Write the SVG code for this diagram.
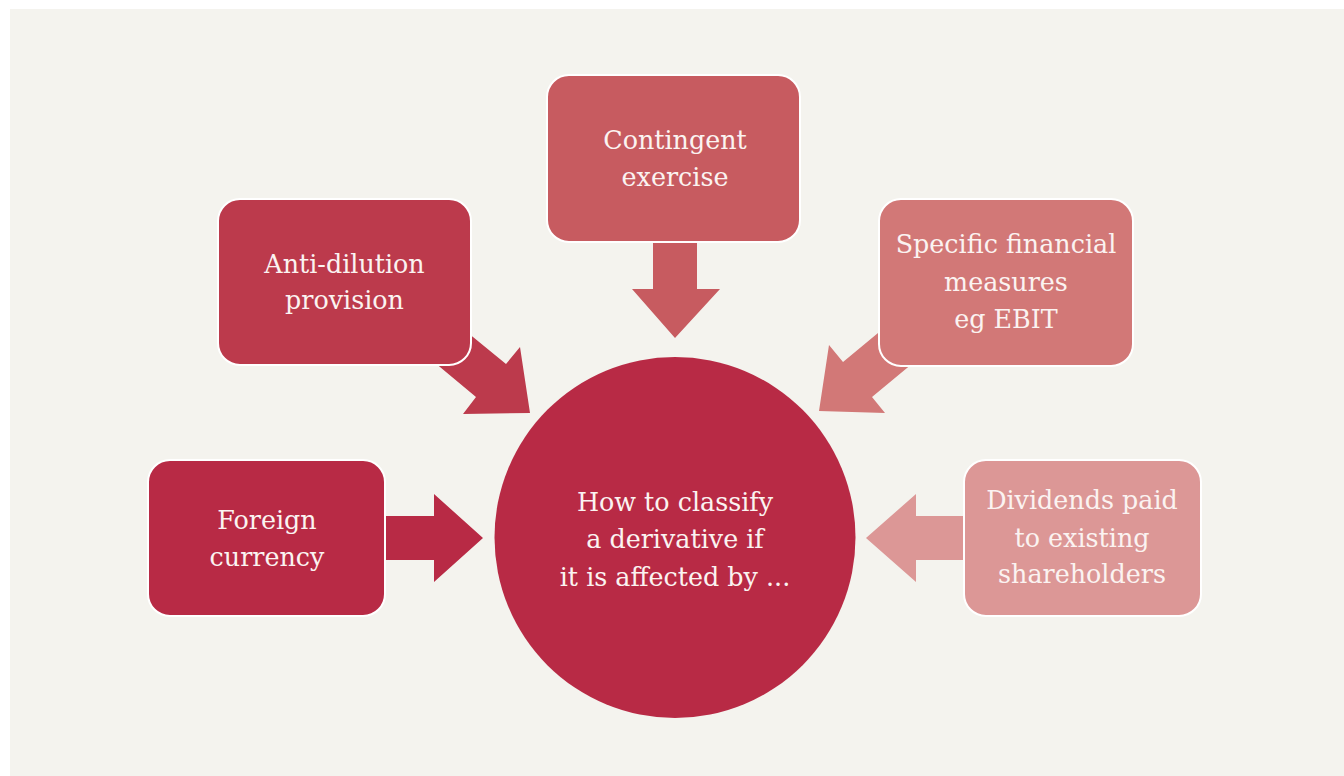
<svg xmlns="http://www.w3.org/2000/svg" width="1344" height="776" viewBox="0 0 1344 776">
<style>
.bg{fill:#F4F3EE}
.box{stroke:#FFFFFF;stroke-width:2}
.t{font-family:"DejaVu Serif","Liberation Serif",serif;font-size:25.4px;fill:#FBF3F1;text-anchor:middle}
.c1{fill:#B82A45}
.c2{fill:#BC3A4C}
.c3{fill:#C75B60}
.c4{fill:#D27877}
.c5{fill:#DC9796}
</style>
<rect x="0" y="0" width="1344" height="776" fill="#FFFFFF"/>
<rect class="bg" x="10" y="9" width="1334" height="767"/>
<g id="connectors">
  <polygon class="c3" points="653,240 697,240 697,289 720,289 675,338 632,289 653,289"/>
  <polygon class="c2" points="440,310 506,364 520,347 530,413 463,414 476,397 410,342"/>
  <polygon class="c4" points="913,304 843,362 829,345 819,411 885,413 872,397 942,339"/>
  <polygon class="c1" points="380,516 434,516 434,494 483,538 434,582 434,560 380,560"/>
  <polygon class="c5" points="970,516 916,516 916,494 866,538 916,582 916,560 970,560"/>
</g>
<g id="center">
  <circle class="c1" cx="675" cy="537.5" r="180.5"/>
  <text class="t" x="675" y="511">How to classify</text>
  <text class="t" x="675" y="548">a derivative if</text>
  <text class="t" x="675" y="586">it is affected by ...</text>
</g>
<g id="contingent">
  <rect class="box c3" x="547" y="75" width="253" height="167" rx="22"/>
  <text class="t" x="675" y="149">Contingent</text>
  <text class="t" x="675" y="186">exercise</text>
</g>
<g id="antidilution">
  <rect class="box c2" x="218" y="199" width="253" height="166" rx="22"/>
  <text class="t" x="344.5" y="273">Anti-dilution</text>
  <text class="t" x="344.5" y="309">provision</text>
</g>
<g id="specific">
  <rect class="box c4" x="879" y="199" width="254" height="167" rx="22"/>
  <text class="t" x="1006" y="253">Specific financial</text>
  <text class="t" x="1006" y="291">measures</text>
  <text class="t" x="1006" y="328">eg EBIT</text>
</g>
<g id="foreign">
  <rect class="box c1" x="148" y="460" width="237" height="156" rx="22"/>
  <text class="t" x="267" y="529">Foreign</text>
  <text class="t" x="267" y="566">currency</text>
</g>
<g id="dividends">
  <rect class="box c5" x="964" y="460" width="237" height="156" rx="22"/>
  <text class="t" x="1082" y="509">Dividends paid</text>
  <text class="t" x="1082" y="547">to existing</text>
  <text class="t" x="1082" y="583">shareholders</text>
</g>
</svg>
